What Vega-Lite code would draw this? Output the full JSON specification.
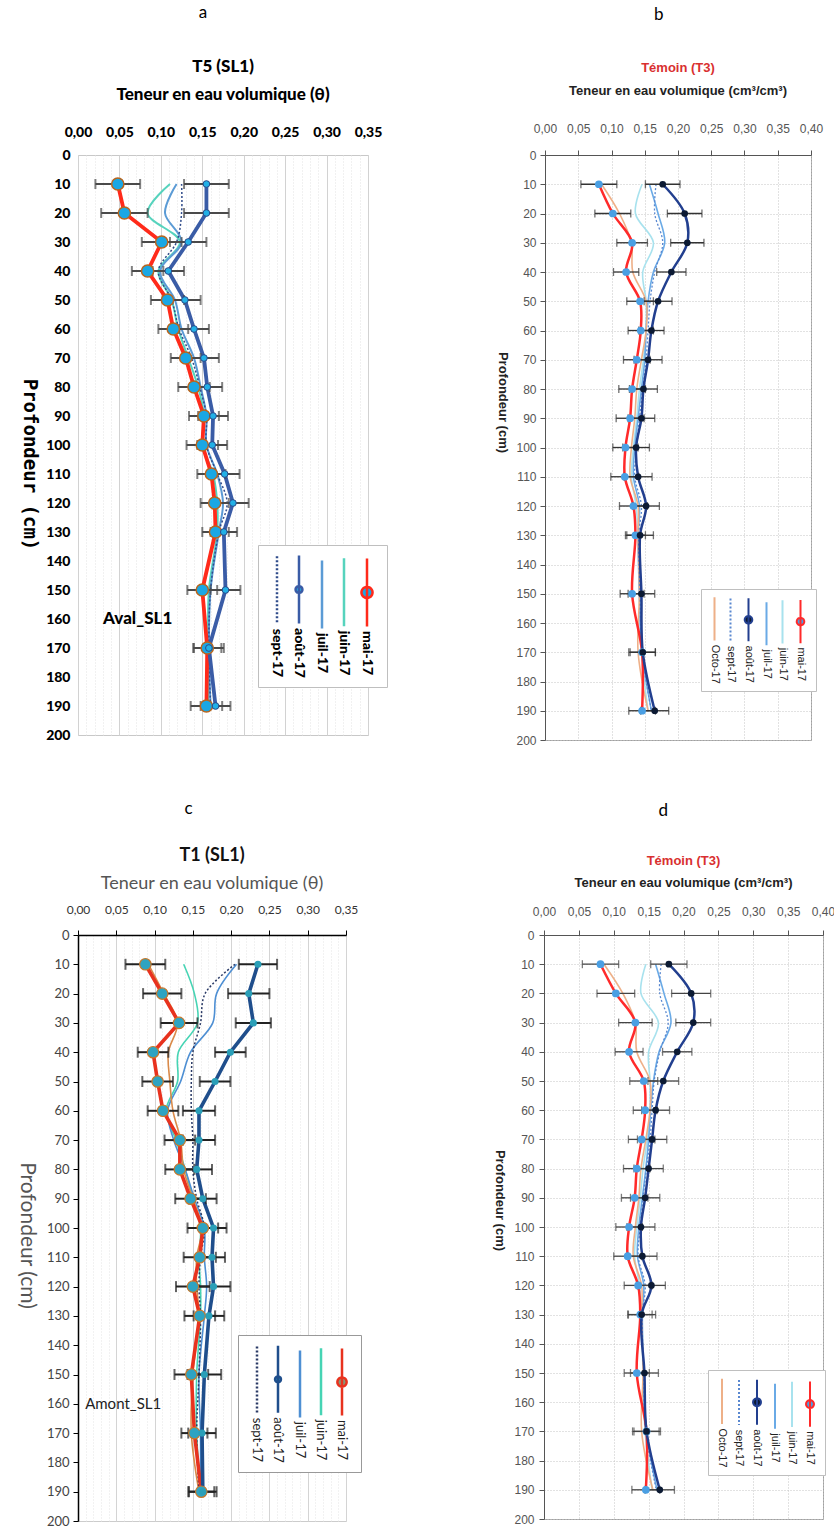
{
"$schema": "https://vega.github.io/schema/vega-lite/v6.json",
"background": "white",
"padding": {"left": 15, "top": 3, "right": 0, "bottom": 0},
"config": {"font": "Lato", "axis": {"labelFlush": false, "labelOverlap": false}, "title": {"anchor": "middle"}},
"datasets": {
"A": [
{"s":"mai-17","d":10,"v":0.048,"e":0.027},{"s":"mai-17","d":20,"v":0.056,"e":0.028},{"s":"mai-17","d":30,"v":0.101,"e":0.024},{"s":"mai-17","d":40,"v":0.084,"e":0.019},{"s":"mai-17","d":50,"v":0.108,"e":0.020},{"s":"mai-17","d":60,"v":0.115,"e":0.018},{"s":"mai-17","d":70,"v":0.130,"e":0.018},{"s":"mai-17","d":80,"v":0.140,"e":0.019},{"s":"mai-17","d":90,"v":0.152,"e":0.018},{"s":"mai-17","d":100,"v":0.150,"e":0.019},{"s":"mai-17","d":110,"v":0.161,"e":0.017},{"s":"mai-17","d":120,"v":0.165,"e":0.017},{"s":"mai-17","d":130,"v":0.166,"e":0.016},{"s":"mai-17","d":150,"v":0.150,"e":0.018},{"s":"mai-17","d":170,"v":0.156,"e":0.017},{"s":"mai-17","d":190,"v":0.155,"e":0.019},
{"s":"août-17","d":10,"v":0.155,"e":0.027},{"s":"août-17","d":20,"v":0.155,"e":0.027},{"s":"août-17","d":30,"v":0.133,"e":0.022},{"s":"août-17","d":40,"v":0.109,"e":0.019},{"s":"août-17","d":50,"v":0.129,"e":0.019},{"s":"août-17","d":60,"v":0.140,"e":0.018},{"s":"août-17","d":70,"v":0.152,"e":0.018},{"s":"août-17","d":80,"v":0.156,"e":0.018},{"s":"août-17","d":90,"v":0.163,"e":0.018},{"s":"août-17","d":100,"v":0.162,"e":0.018},{"s":"août-17","d":110,"v":0.177,"e":0.018},{"s":"août-17","d":120,"v":0.187,"e":0.019},{"s":"août-17","d":130,"v":0.176,"e":0.016},{"s":"août-17","d":150,"v":0.178,"e":0.018},{"s":"août-17","d":170,"v":0.158,"e":0.018},{"s":"août-17","d":190,"v":0.166,"e":0.018},
{"s":"juin-17","d":10,"v":0.111},{"s":"juin-17","d":20,"v":0.084},{"s":"juin-17","d":30,"v":0.123},{"s":"juin-17","d":40,"v":0.097},{"s":"juin-17","d":50,"v":0.113},{"s":"juin-17","d":60,"v":0.121},{"s":"juin-17","d":70,"v":0.133},{"s":"juin-17","d":80,"v":0.145},{"s":"juin-17","d":90,"v":0.152},{"s":"juin-17","d":100,"v":0.150},{"s":"juin-17","d":110,"v":0.163},{"s":"juin-17","d":120,"v":0.168},{"s":"juin-17","d":130,"v":0.168},{"s":"juin-17","d":150,"v":0.158},{"s":"juin-17","d":170,"v":0.157},{"s":"juin-17","d":190,"v":0.157},
{"s":"juil-17","d":10,"v":0.119},{"s":"juil-17","d":20,"v":0.105},{"s":"juil-17","d":30,"v":0.125},{"s":"juil-17","d":40,"v":0.099},{"s":"juil-17","d":50,"v":0.117},{"s":"juil-17","d":60,"v":0.125},{"s":"juil-17","d":70,"v":0.140},{"s":"juil-17","d":80,"v":0.148},{"s":"juil-17","d":90,"v":0.155},{"s":"juil-17","d":100,"v":0.155},{"s":"juil-17","d":110,"v":0.168},{"s":"juil-17","d":120,"v":0.175},{"s":"juil-17","d":130,"v":0.170},{"s":"juil-17","d":150,"v":0.160},{"s":"juil-17","d":170,"v":0.158},{"s":"juil-17","d":190,"v":0.160},
{"s":"sept-17","d":10,"v":0.125},{"s":"sept-17","d":20,"v":0.125},{"s":"sept-17","d":30,"v":0.119},{"s":"sept-17","d":40,"v":0.097},{"s":"sept-17","d":50,"v":0.113},{"s":"sept-17","d":60,"v":0.122},{"s":"sept-17","d":70,"v":0.137},{"s":"sept-17","d":80,"v":0.147},{"s":"sept-17","d":90,"v":0.155},{"s":"sept-17","d":100,"v":0.155},{"s":"sept-17","d":110,"v":0.168},{"s":"sept-17","d":120,"v":0.180},{"s":"sept-17","d":130,"v":0.170},{"s":"sept-17","d":150,"v":0.160},{"s":"sept-17","d":170,"v":0.158},{"s":"sept-17","d":190,"v":0.160}
],
"B": [
{"s":"mai-17","d":10,"v":0.081,"e":0.027},{"s":"mai-17","d":20,"v":0.102,"e":0.027},{"s":"mai-17","d":30,"v":0.131,"e":0.023},{"s":"mai-17","d":40,"v":0.122,"e":0.019},{"s":"mai-17","d":50,"v":0.143,"e":0.020},{"s":"mai-17","d":60,"v":0.144,"e":0.019},{"s":"mai-17","d":70,"v":0.138,"e":0.020},{"s":"mai-17","d":80,"v":0.131,"e":0.020},{"s":"mai-17","d":90,"v":0.128,"e":0.021},{"s":"mai-17","d":100,"v":0.121,"e":0.019},{"s":"mai-17","d":110,"v":0.120,"e":0.021},{"s":"mai-17","d":120,"v":0.133,"e":0.021},{"s":"mai-17","d":130,"v":0.136,"e":0.015},{"s":"mai-17","d":150,"v":0.131,"e":0.018},{"s":"mai-17","d":170,"v":0.146,"e":0.020},{"s":"mai-17","d":190,"v":0.146,"e":0.020},
{"s":"août-17","d":10,"v":0.177,"e":0.026},{"s":"août-17","d":20,"v":0.210,"e":0.026},{"s":"août-17","d":30,"v":0.214,"e":0.025},{"s":"août-17","d":40,"v":0.190,"e":0.022},{"s":"août-17","d":50,"v":0.170,"e":0.021},{"s":"août-17","d":60,"v":0.160,"e":0.019},{"s":"août-17","d":70,"v":0.155,"e":0.021},{"s":"août-17","d":80,"v":0.148,"e":0.021},{"s":"août-17","d":90,"v":0.145,"e":0.020},{"s":"août-17","d":100,"v":0.137,"e":0.020},{"s":"août-17","d":110,"v":0.140,"e":0.021},{"s":"août-17","d":120,"v":0.152,"e":0.020},{"s":"août-17","d":130,"v":0.143,"e":0.020},{"s":"août-17","d":150,"v":0.145,"e":0.020},{"s":"août-17","d":170,"v":0.147,"e":0.019},{"s":"août-17","d":190,"v":0.165,"e":0.021},
{"s":"juin-17","d":10,"v":0.146},{"s":"juin-17","d":20,"v":0.136},{"s":"juin-17","d":30,"v":0.163},{"s":"juin-17","d":40,"v":0.147},{"s":"juin-17","d":50,"v":0.152},{"s":"juin-17","d":60,"v":0.152},{"s":"juin-17","d":70,"v":0.148},{"s":"juin-17","d":80,"v":0.142},{"s":"juin-17","d":90,"v":0.138},{"s":"juin-17","d":100,"v":0.133},{"s":"juin-17","d":110,"v":0.130},{"s":"juin-17","d":120,"v":0.137},{"s":"juin-17","d":130,"v":0.140},{"s":"juin-17","d":150,"v":0.142},{"s":"juin-17","d":170,"v":0.145},{"s":"juin-17","d":190,"v":0.155},
{"s":"juil-17","d":10,"v":0.157},{"s":"juil-17","d":20,"v":0.170},{"s":"juil-17","d":30,"v":0.180},{"s":"juil-17","d":40,"v":0.163},{"s":"juil-17","d":50,"v":0.155},{"s":"juil-17","d":60,"v":0.152},{"s":"juil-17","d":70,"v":0.150},{"s":"juil-17","d":80,"v":0.145},{"s":"juil-17","d":90,"v":0.140},{"s":"juil-17","d":100,"v":0.135},{"s":"juil-17","d":110,"v":0.133},{"s":"juil-17","d":120,"v":0.142},{"s":"juil-17","d":130,"v":0.140},{"s":"juil-17","d":150,"v":0.142},{"s":"juil-17","d":170,"v":0.146},{"s":"juil-17","d":190,"v":0.160},
{"s":"sept-17","d":10,"v":0.167},{"s":"sept-17","d":20,"v":0.165},{"s":"sept-17","d":30,"v":0.177},{"s":"sept-17","d":40,"v":0.165},{"s":"sept-17","d":50,"v":0.158},{"s":"sept-17","d":60,"v":0.155},{"s":"sept-17","d":70,"v":0.152},{"s":"sept-17","d":80,"v":0.147},{"s":"sept-17","d":90,"v":0.142},{"s":"sept-17","d":100,"v":0.138},{"s":"sept-17","d":110,"v":0.135},{"s":"sept-17","d":120,"v":0.145},{"s":"sept-17","d":130,"v":0.141},{"s":"sept-17","d":150,"v":0.143},{"s":"sept-17","d":170,"v":0.146},{"s":"sept-17","d":190,"v":0.160},
{"s":"Octo-17","d":10,"v":0.085},{"s":"Octo-17","d":20,"v":0.112},{"s":"Octo-17","d":30,"v":0.130},{"s":"Octo-17","d":40,"v":0.132},{"s":"Octo-17","d":50,"v":0.152},{"s":"Octo-17","d":60,"v":0.152},{"s":"Octo-17","d":70,"v":0.145},{"s":"Octo-17","d":80,"v":0.138},{"s":"Octo-17","d":90,"v":0.135},{"s":"Octo-17","d":100,"v":0.130},{"s":"Octo-17","d":110,"v":0.128},{"s":"Octo-17","d":120,"v":0.140},{"s":"Octo-17","d":130,"v":0.140},{"s":"Octo-17","d":150,"v":0.142},{"s":"Octo-17","d":170,"v":0.140},{"s":"Octo-17","d":190,"v":0.155}
],
"C": [
{"s":"mai-17","d":10,"v":0.088,"e":0.026},{"s":"mai-17","d":20,"v":0.110,"e":0.025},{"s":"mai-17","d":30,"v":0.132,"e":0.024},{"s":"mai-17","d":40,"v":0.098,"e":0.020},{"s":"mai-17","d":50,"v":0.104,"e":0.020},{"s":"mai-17","d":60,"v":0.111,"e":0.020},{"s":"mai-17","d":70,"v":0.133,"e":0.020},{"s":"mai-17","d":80,"v":0.133,"e":0.019},{"s":"mai-17","d":90,"v":0.147,"e":0.020},{"s":"mai-17","d":100,"v":0.163,"e":0.020},{"s":"mai-17","d":110,"v":0.159,"e":0.021},{"s":"mai-17","d":120,"v":0.150,"e":0.022},{"s":"mai-17","d":130,"v":0.159,"e":0.020},{"s":"mai-17","d":150,"v":0.148,"e":0.022},{"s":"mai-17","d":170,"v":0.152,"e":0.017},{"s":"mai-17","d":190,"v":0.161,"e":0.017},
{"s":"août-17","d":10,"v":0.235,"e":0.025},{"s":"août-17","d":20,"v":0.223,"e":0.027},{"s":"août-17","d":30,"v":0.229,"e":0.023},{"s":"août-17","d":40,"v":0.199,"e":0.020},{"s":"août-17","d":50,"v":0.179,"e":0.020},{"s":"août-17","d":60,"v":0.158,"e":0.021},{"s":"août-17","d":70,"v":0.158,"e":0.021},{"s":"août-17","d":80,"v":0.155,"e":0.020},{"s":"août-17","d":90,"v":0.163,"e":0.018},{"s":"août-17","d":100,"v":0.177,"e":0.017},{"s":"août-17","d":110,"v":0.175,"e":0.017},{"s":"août-17","d":120,"v":0.177,"e":0.022},{"s":"août-17","d":130,"v":0.171,"e":0.020},{"s":"août-17","d":150,"v":0.165,"e":0.022},{"s":"août-17","d":170,"v":0.162,"e":0.018},{"s":"août-17","d":190,"v":0.163,"e":0.018},
{"s":"juin-17","d":10,"v":0.138},{"s":"juin-17","d":20,"v":0.152},{"s":"juin-17","d":30,"v":0.156},{"s":"juin-17","d":40,"v":0.131},{"s":"juin-17","d":50,"v":0.130},{"s":"juin-17","d":60,"v":0.115},{"s":"juin-17","d":70,"v":0.128},{"s":"juin-17","d":80,"v":0.140},{"s":"juin-17","d":90,"v":0.150},{"s":"juin-17","d":100,"v":0.160},{"s":"juin-17","d":110,"v":0.158},{"s":"juin-17","d":120,"v":0.160},{"s":"juin-17","d":130,"v":0.160},{"s":"juin-17","d":150,"v":0.155},{"s":"juin-17","d":170,"v":0.155},{"s":"juin-17","d":190,"v":0.160},
{"s":"juil-17","d":10,"v":0.207},{"s":"juil-17","d":20,"v":0.181},{"s":"juil-17","d":30,"v":0.176},{"s":"juil-17","d":40,"v":0.147},{"s":"juil-17","d":50,"v":0.134},{"s":"juil-17","d":60,"v":0.117},{"s":"juil-17","d":70,"v":0.125},{"s":"juil-17","d":80,"v":0.140},{"s":"juil-17","d":90,"v":0.152},{"s":"juil-17","d":100,"v":0.165},{"s":"juil-17","d":110,"v":0.165},{"s":"juil-17","d":120,"v":0.168},{"s":"juil-17","d":130,"v":0.165},{"s":"juil-17","d":150,"v":0.158},{"s":"juil-17","d":170,"v":0.160},{"s":"juil-17","d":190,"v":0.160},
{"s":"sept-17","d":10,"v":0.205},{"s":"sept-17","d":20,"v":0.166},{"s":"sept-17","d":30,"v":0.160},{"s":"sept-17","d":40,"v":0.150},{"s":"sept-17","d":50,"v":0.148},{"s":"sept-17","d":60,"v":0.148},{"s":"sept-17","d":70,"v":0.150},{"s":"sept-17","d":80,"v":0.150},{"s":"sept-17","d":90,"v":0.155},{"s":"sept-17","d":100,"v":0.165},{"s":"sept-17","d":110,"v":0.160},{"s":"sept-17","d":120,"v":0.158},{"s":"sept-17","d":130,"v":0.160},{"s":"sept-17","d":150,"v":0.158},{"s":"sept-17","d":170,"v":0.155},{"s":"sept-17","d":190,"v":0.158},
{"s":"Octo-17","d":10,"v":0.092},{"s":"Octo-17","d":20,"v":0.112},{"s":"Octo-17","d":30,"v":0.130},{"s":"Octo-17","d":40,"v":0.118},{"s":"Octo-17","d":50,"v":0.120},{"s":"Octo-17","d":60,"v":0.124},{"s":"Octo-17","d":70,"v":0.134},{"s":"Octo-17","d":80,"v":0.138},{"s":"Octo-17","d":90,"v":0.150},{"s":"Octo-17","d":100,"v":0.162},{"s":"Octo-17","d":110,"v":0.155},{"s":"Octo-17","d":120,"v":0.155},{"s":"Octo-17","d":130,"v":0.158},{"s":"Octo-17","d":150,"v":0.150},{"s":"Octo-17","d":170,"v":0.148},{"s":"Octo-17","d":190,"v":0.158}
],
"D": [
{"s":"mai-17","d":10,"v":0.081,"e":0.026},{"s":"mai-17","d":20,"v":0.103,"e":0.027},{"s":"mai-17","d":30,"v":0.131,"e":0.024},{"s":"mai-17","d":40,"v":0.122,"e":0.020},{"s":"mai-17","d":50,"v":0.143,"e":0.020},{"s":"mai-17","d":60,"v":0.145,"e":0.017},{"s":"mai-17","d":70,"v":0.140,"e":0.019},{"s":"mai-17","d":80,"v":0.133,"e":0.019},{"s":"mai-17","d":90,"v":0.130,"e":0.019},{"s":"mai-17","d":100,"v":0.122,"e":0.019},{"s":"mai-17","d":110,"v":0.120,"e":0.020},{"s":"mai-17","d":120,"v":0.135,"e":0.020},{"s":"mai-17","d":130,"v":0.138,"e":0.017},{"s":"mai-17","d":150,"v":0.133,"e":0.018},{"s":"mai-17","d":170,"v":0.147,"e":0.018},{"s":"mai-17","d":190,"v":0.146,"e":0.020},
{"s":"août-17","d":10,"v":0.179,"e":0.026},{"s":"août-17","d":20,"v":0.211,"e":0.028},{"s":"août-17","d":30,"v":0.214,"e":0.025},{"s":"août-17","d":40,"v":0.191,"e":0.021},{"s":"août-17","d":50,"v":0.171,"e":0.022},{"s":"août-17","d":60,"v":0.160,"e":0.020},{"s":"août-17","d":70,"v":0.155,"e":0.021},{"s":"août-17","d":80,"v":0.150,"e":0.021},{"s":"août-17","d":90,"v":0.145,"e":0.021},{"s":"août-17","d":100,"v":0.139,"e":0.020},{"s":"août-17","d":110,"v":0.141,"e":0.021},{"s":"août-17","d":120,"v":0.154,"e":0.020},{"s":"août-17","d":130,"v":0.140,"e":0.020},{"s":"août-17","d":150,"v":0.144,"e":0.020},{"s":"août-17","d":170,"v":0.147,"e":0.020},{"s":"août-17","d":190,"v":0.166,"e":0.021},
{"s":"juin-17","d":10,"v":0.146},{"s":"juin-17","d":20,"v":0.139},{"s":"juin-17","d":30,"v":0.164},{"s":"juin-17","d":40,"v":0.150},{"s":"juin-17","d":50,"v":0.152},{"s":"juin-17","d":60,"v":0.152},{"s":"juin-17","d":70,"v":0.148},{"s":"juin-17","d":80,"v":0.142},{"s":"juin-17","d":90,"v":0.138},{"s":"juin-17","d":100,"v":0.133},{"s":"juin-17","d":110,"v":0.130},{"s":"juin-17","d":120,"v":0.137},{"s":"juin-17","d":130,"v":0.140},{"s":"juin-17","d":150,"v":0.142},{"s":"juin-17","d":170,"v":0.145},{"s":"juin-17","d":190,"v":0.155},
{"s":"juil-17","d":10,"v":0.160},{"s":"juil-17","d":20,"v":0.172},{"s":"juil-17","d":30,"v":0.182},{"s":"juil-17","d":40,"v":0.165},{"s":"juil-17","d":50,"v":0.157},{"s":"juil-17","d":60,"v":0.153},{"s":"juil-17","d":70,"v":0.150},{"s":"juil-17","d":80,"v":0.146},{"s":"juil-17","d":90,"v":0.141},{"s":"juil-17","d":100,"v":0.136},{"s":"juil-17","d":110,"v":0.134},{"s":"juil-17","d":120,"v":0.143},{"s":"juil-17","d":130,"v":0.141},{"s":"juil-17","d":150,"v":0.143},{"s":"juil-17","d":170,"v":0.147},{"s":"juil-17","d":190,"v":0.162},
{"s":"sept-17","d":10,"v":0.168},{"s":"sept-17","d":20,"v":0.166},{"s":"sept-17","d":30,"v":0.178},{"s":"sept-17","d":40,"v":0.166},{"s":"sept-17","d":50,"v":0.158},{"s":"sept-17","d":60,"v":0.155},{"s":"sept-17","d":70,"v":0.152},{"s":"sept-17","d":80,"v":0.147},{"s":"sept-17","d":90,"v":0.142},{"s":"sept-17","d":100,"v":0.138},{"s":"sept-17","d":110,"v":0.135},{"s":"sept-17","d":120,"v":0.145},{"s":"sept-17","d":130,"v":0.141},{"s":"sept-17","d":150,"v":0.143},{"s":"sept-17","d":170,"v":0.146},{"s":"sept-17","d":190,"v":0.161},
{"s":"Octo-17","d":10,"v":0.086},{"s":"Octo-17","d":20,"v":0.113},{"s":"Octo-17","d":30,"v":0.131},{"s":"Octo-17","d":40,"v":0.133},{"s":"Octo-17","d":50,"v":0.152},{"s":"Octo-17","d":60,"v":0.152},{"s":"Octo-17","d":70,"v":0.146},{"s":"Octo-17","d":80,"v":0.139},{"s":"Octo-17","d":90,"v":0.136},{"s":"Octo-17","d":100,"v":0.131},{"s":"Octo-17","d":110,"v":0.128},{"s":"Octo-17","d":120,"v":0.140},{"s":"Octo-17","d":130,"v":0.140},{"s":"Octo-17","d":150,"v":0.142},{"s":"Octo-17","d":170,"v":0.140},{"s":"Octo-17","d":190,"v":0.156}
]
},
"spacing": 52,
"resolve": {"scale": {"color": "independent"}, "legend": {"color": "independent"}},
"vconcat": [
{"spacing": 106, "resolve": {"scale": {"color": "independent"}, "legend": {"color": "independent"}}, "hconcat": [
{"title": {"text": "a", "font": "Lato", "fontSize": 17, "fontWeight": "normal", "color": "#000", "offset": 36, "frame": "bounds"},
 "vconcat": [{
  "width": 290, "height": 580,
  "data": {"name": "A"},
  "view": {"stroke": "#c8c8c8"},
  "title": {"text": "T5 (SL1)", "subtitle": "Teneur en eau volumique (θ)", "font": "Lato", "fontSize": 17, "fontWeight": 900, "color": "#000", "subtitleFont": "Lato", "subtitleFontSize": 17, "subtitleFontWeight": 900, "subtitleColor": "#000", "subtitlePadding": 11, "offset": 21},
  "encoding": {
   "x": {"field": "v", "type": "quantitative", "title": null, "scale": {"domain": [0, 0.35], "nice": false, "zero": false},
    "axis": {"orient": "top", "values": [0,0.01,0.02,0.03,0.04,0.05,0.06,0.07,0.08,0.09,0.1,0.11,0.12,0.13,0.14,0.15,0.16,0.17,0.18,0.19,0.2,0.21,0.22,0.23,0.24,0.25,0.26,0.27,0.28,0.29,0.3,0.31,0.32,0.33,0.34,0.35],
     "labelExpr": "round(datum.value*100)%5===0 ? replace(format(datum.value,'.2f'),'.',',') : ''",
     "labelFont": "Lato", "labelFontSize": 14, "labelFontWeight": 900, "labelColor": "#000", "ticks": false, "tickSize": 0, "domain": false, "labelPadding": 16,
     "grid": true, "gridWidth": 1,
     "gridColor": {"condition": {"test": "round(datum.value*100)%5===0", "value": "#d2d2d2"}, "value": "#e2e2e2"},
     "gridDash": {"condition": {"test": "round(datum.value*100)%5===0", "value": []}, "value": [1, 2]}}},
   "y": {"field": "d", "type": "quantitative", "title": "Profondeur (cm)", "scale": {"domain": [0, 200], "reverse": true, "nice": false},
    "axis": {"values": [0,10,20,30,40,50,60,70,80,90,100,110,120,130,140,150,160,170,180,190,200], "grid": false, "ticks": false, "tickSize": 0, "domain": false,
     "labelFont": "Lato", "labelFontSize": 14, "labelFontWeight": 900, "labelColor": "#000", "labelPadding": 8,
     "titleAngle": 90, "titleBaseline": "middle", "titleFont": "DejaVu Sans Mono", "titleFontSize": 19, "titleFontWeight": "bold", "titleColor": "#000", "titleX": -49, "titleY": 309}}
  },
  "layer": [
   {"transform": [{"filter": {"field": "s", "oneOf": ["juin-17", "juil-17"]}}],
    "mark": {"type": "line", "interpolate": "catmull-rom", "strokeWidth": 2},
    "encoding": {"order": {"field": "d", "type": "quantitative"},
     "color": {"field": "s", "type": "nominal", "scale": {"domain": ["sept-17","août-17","juil-17","juin-17","mai-17"], "range": ["#2f4b8a","#3a5ca6","#5b9bd5","#56d3bd","#ff2a1a"]},
      "legend": {"orient": "none", "legendX": 180, "legendY": 390, "direction": "horizontal", "columns": 5, "title": null,
       "values": ["sept-17","août-17","juil-17","juin-17","mai-17"],
       "symbolType": "M0,-1L0,7", "symbolSize": 289, "symbolStrokeWidth": 2.5, "labelOffset": -10,
       "labelFont": "Lato", "labelFontSize": 14, "labelFontWeight": 900, "labelColor": "#000", "labelLimit": 200,
       "columnPadding": 4, "padding": 9, "strokeColor": "#bfbfbf", "fillColor": "#ffffff",
       "encode": {"labels": {"update": {"angle": {"value": 90}, "dx": {"value": 64}}},
                  "symbols": {"update": {
                    "strokeDash": [{"test": "datum.value==='sept-17'", "value": [2, 2]}, {"value": [1, 0]}],
                    "shape": [{"test": "datum.value==='mai-17'", "value": "M0,-1L0,7M-0.65,3A0.65,0.65 0 1,0 0.65,3A0.65,0.65 0 1,0 -0.65,3"}, {"test": "datum.value==='août-17'", "value": "M0,-1L0,7M-0.4,3A0.4,0.4 0 1,0 0.4,3A0.4,0.4 0 1,0 -0.4,3"}, {"value": "M0,-1L0,7"}],
                    "fill": [{"test": "datum.value==='mai-17'", "value": "#1aa7e4"}, {"test": "datum.value==='août-17'", "value": "#22b0e6"}, {"value": "transparent"}]}}}}}}},
   {"transform": [{"filter": {"field": "s", "equal": "sept-17"}}],
    "mark": {"type": "line", "interpolate": "catmull-rom", "strokeWidth": 1.5, "strokeDash": [2, 2]},
    "encoding": {"order": {"field": "d", "type": "quantitative"},
     "color": {"field": "s", "type": "nominal", "scale": {"domain": ["sept-17","août-17","juil-17","juin-17","mai-17"], "range": ["#2f4b8a","#3a5ca6","#5b9bd5","#56d3bd","#ff2a1a"]}}}},
   {"transform": [{"filter": {"field": "s", "oneOf": ["mai-17", "août-17"]}}],
    "mark": {"type": "line", "strokeWidth": 3.8},
    "encoding": {"order": {"field": "d", "type": "quantitative"},
     "color": {"field": "s", "type": "nominal", "scale": {"domain": ["sept-17","août-17","juil-17","juin-17","mai-17"], "range": ["#2f4b8a","#3a5ca6","#5b9bd5","#56d3bd","#ff2a1a"]}}}},
   {"transform": [{"filter": "isValid(datum.e)"}],
    "mark": {"type": "errorbar", "ticks": true, "size": 10, "thickness": 2, "color": "#4a4a4a"},
    "encoding": {"xError": {"field": "e"}}},
   {"transform": [{"filter": {"field": "s", "equal": "mai-17"}}],
    "mark": {"type": "point", "shape": "circle", "filled": true, "fill": "#1aa7e4", "stroke": "#b8651e", "strokeWidth": 1.5, "size": 150, "opacity": 1}},
   {"transform": [{"filter": {"field": "s", "equal": "août-17"}}],
    "mark": {"type": "point", "shape": "circle", "filled": true, "fill": "#22b0e6", "stroke": "#2a4a8a", "strokeWidth": 1, "size": 45, "opacity": 1}},
   {"transform": [{"filter": "datum.s === 'mai-17' && datum.d === 10"}],
    "mark": {"type": "text", "text": "Aval_SL1", "font": "Lato", "fontSize": 17, "fontWeight": 900, "color": "#000", "align": "center", "baseline": "middle"},
    "encoding": {"x": {"datum": 0.072, "type": "quantitative"}, "y": {"datum": 160, "type": "quantitative"}}}
  ]
 }]
},
{"title": {"text": "b", "font": "Lato", "fontSize": 17, "fontWeight": "normal", "color": "#000", "offset": 38, "frame": "bounds"},
 "vconcat": [{
  "width": 266, "height": 585,
  "data": {"name": "B"},
  "view": {"stroke": "#a0a0a0"},
  "title": {"text": "Témoin (T3)", "subtitle": "Teneur en eau volumique (cm³/cm³)", "font": "Liberation Sans", "fontSize": 13, "fontWeight": "bold", "color": "#d93030", "subtitleFont": "Liberation Sans", "subtitleFontSize": 13, "subtitleFontWeight": "bold", "subtitleColor": "#222", "subtitlePadding": 10, "offset": 24},
  "encoding": {
   "x": {"field": "v", "type": "quantitative", "title": null, "scale": {"domain": [0, 0.4], "nice": false, "zero": false},
    "axis": {"orient": "top", "values": [0,0.05,0.1,0.15,0.2,0.25,0.3,0.35,0.4],
     "labelExpr": "replace(format(datum.value,'.2f'),'.',',')",
     "labelFont": "Liberation Sans", "labelFontSize": 12, "labelColor": "#555", "ticks": true, "tickSize": 5, "tickColor": "#555", "domain": true, "domainColor": "#555", "labelPadding": 15,
     "grid": true, "gridColor": "#c4c4c4", "gridDash": [1, 2]}},
   "y": {"field": "d", "type": "quantitative", "title": "Profondeur (cm)", "scale": {"domain": [0, 200], "reverse": true, "nice": false},
    "axis": {"values": [0,10,20,30,40,50,60,70,80,90,100,110,120,130,140,150,160,170,180,190,200], "grid": true, "gridColor": "#c4c4c4", "gridDash": [1, 2], "ticks": true, "tickSize": 5, "tickColor": "#555", "domain": true, "domainColor": "#555",
     "labelFont": "Liberation Sans", "labelFontSize": 12, "labelColor": "#555", "labelPadding": 4,
     "titleAngle": 90, "titleBaseline": "middle", "titleFont": "Liberation Sans", "titleFontSize": 13, "titleFontWeight": "bold", "titleColor": "#222", "titleX": -43, "titleY": 247}}
  },
  "layer": [
   {"transform": [{"filter": {"field": "s", "oneOf": ["juin-17", "juil-17", "Octo-17"]}}],
    "mark": {"type": "line", "interpolate": "catmull-rom", "strokeWidth": 1.6},
    "encoding": {"order": {"field": "d", "type": "quantitative"},
     "color": {"field": "s", "type": "nominal", "scale": {"domain": ["Octo-17","sept-17","août-17","juil-17","juin-17","mai-17"], "range": ["#eeb088","#5a88d0","#223f8f","#6aaae6","#a8e2ee","#ff2a2a"]},
      "legend": {"orient": "none", "legendX": 156, "legendY": 434, "direction": "horizontal", "columns": 6, "title": null,
       "values": ["Octo-17","sept-17","août-17","juil-17","juin-17","mai-17"],
       "symbolType": "M0,-1L0,7", "symbolSize": 116, "symbolStrokeWidth": 2, "labelOffset": -6.5,
       "labelFont": "Liberation Sans", "labelFontSize": 11, "labelColor": "#222", "labelLimit": 200,
       "columnPadding": 3, "padding": 7, "strokeColor": "#bfbfbf", "fillColor": "#ffffff",
       "encode": {"labels": {"update": {"angle": {"value": 90}, "dx": {"value": 42}}},
                  "symbols": {"update": {
                    "strokeDash": [{"test": "datum.value==='sept-17'", "value": [2, 2]}, {"value": [1, 0]}],
                    "shape": [{"test": "datum.value==='mai-17' || datum.value==='août-17'", "value": "M0,-1L0,7M-0.7,3A0.7,0.7 0 1,0 0.7,3A0.7,0.7 0 1,0 -0.7,3"}, {"value": "M0,-1L0,7"}],
                    "fill": [{"test": "datum.value==='mai-17'", "value": "#4a9fe3"}, {"test": "datum.value==='août-17'", "value": "#0c1a33"}, {"value": "transparent"}]}}}}}}},
   {"transform": [{"filter": {"field": "s", "equal": "sept-17"}}],
    "mark": {"type": "line", "interpolate": "catmull-rom", "strokeWidth": 1.3, "strokeDash": [2, 2]},
    "encoding": {"order": {"field": "d", "type": "quantitative"},
     "color": {"field": "s", "type": "nominal", "scale": {"domain": ["Octo-17","sept-17","août-17","juil-17","juin-17","mai-17"], "range": ["#eeb088","#5a88d0","#223f8f","#6aaae6","#a8e2ee","#ff2a2a"]}}}},
   {"transform": [{"filter": {"field": "s", "oneOf": ["mai-17", "août-17"]}}],
    "mark": {"type": "line", "interpolate": "catmull-rom", "strokeWidth": 2.5},
    "encoding": {"order": {"field": "d", "type": "quantitative"},
     "color": {"field": "s", "type": "nominal", "scale": {"domain": ["Octo-17","sept-17","août-17","juil-17","juin-17","mai-17"], "range": ["#eeb088","#5a88d0","#223f8f","#6aaae6","#a8e2ee","#ff2a2a"]}}}},
   {"transform": [{"filter": "isValid(datum.e)"}],
    "mark": {"type": "errorbar", "ticks": true, "size": 8, "thickness": 1.3, "color": "#333"},
    "encoding": {"xError": {"field": "e"}}},
   {"transform": [{"filter": {"field": "s", "equal": "mai-17"}}],
    "mark": {"type": "point", "shape": "circle", "filled": true, "fill": "#4a9fe3", "size": 60, "opacity": 1}},
   {"transform": [{"filter": {"field": "s", "equal": "août-17"}}],
    "mark": {"type": "point", "shape": "circle", "filled": true, "fill": "#0c1a33", "size": 45, "opacity": 1}}
  ]
 }]
}
]},
{"spacing": 129, "resolve": {"scale": {"color": "independent"}, "legend": {"color": "independent"}}, "hconcat": [
{"title": {"text": "c", "font": "Lato", "fontSize": 17, "fontWeight": "normal", "color": "#000", "offset": 29, "frame": "bounds"},
 "vconcat": [{
  "width": 268, "height": 586,
  "data": {"name": "C"},
  "view": {"stroke": "#cccccc"},
  "title": {"text": "T1 (SL1)", "subtitle": "Teneur en eau volumique (θ)", "font": "Lato", "fontSize": 18, "fontWeight": "bold", "color": "#111", "subtitleFont": "Lato", "subtitleFontSize": 18, "subtitleFontWeight": "normal", "subtitleColor": "#555", "subtitlePadding": 10, "offset": 10},
  "encoding": {
   "x": {"field": "v", "type": "quantitative", "title": null, "scale": {"domain": [0, 0.35], "nice": false, "zero": false},
    "axis": {"orient": "top", "values": [0,0.01,0.02,0.03,0.04,0.05,0.06,0.07,0.08,0.09,0.1,0.11,0.12,0.13,0.14,0.15,0.16,0.17,0.18,0.19,0.2,0.21,0.22,0.23,0.24,0.25,0.26,0.27,0.28,0.29,0.3,0.31,0.32,0.33,0.34,0.35],
     "labelExpr": "round(datum.value*100)%5===0 ? replace(format(datum.value,'.2f'),'.',',') : ''",
     "labelFont": "Lato", "labelFontSize": 12, "labelColor": "#333", "ticks": true, "tickSize": 5, "tickColor": "#000",
     "tickOpacity": {"condition": {"test": "round(datum.value*100)%5===0", "value": 1}, "value": 0},
     "domain": true, "domainColor": "#000", "domainWidth": 1.5, "labelPadding": 14,
     "grid": true, "gridWidth": 1,
     "gridColor": {"condition": {"test": "round(datum.value*100)%5===0", "value": "#d4d4d4"}, "value": "#e4e4e4"},
     "gridDash": {"condition": {"test": "round(datum.value*100)%5===0", "value": []}, "value": [1, 2]}}},
   "y": {"field": "d", "type": "quantitative", "title": "Profondeur (cm)", "scale": {"domain": [0, 200], "reverse": true, "nice": false},
    "axis": {"values": [0,10,20,30,40,50,60,70,80,90,100,110,120,130,140,150,160,170,180,190,200], "grid": false, "ticks": true, "tickSize": 5, "tickColor": "#000", "domain": true, "domainColor": "#000", "domainWidth": 1.5,
     "labelFont": "Lato", "labelFontSize": 13, "labelColor": "#444", "labelPadding": 4,
     "titleAngle": 90, "titleBaseline": "middle", "titleFont": "Lato", "titleFontSize": 21, "titleFontWeight": "normal", "titleColor": "#555", "titleX": -52, "titleY": 300}}
  },
  "layer": [
   {"transform": [{"filter": {"field": "s", "oneOf": ["juin-17", "juil-17", "Octo-17"]}}],
    "mark": {"type": "line", "interpolate": "catmull-rom", "strokeWidth": 1.6},
    "encoding": {"order": {"field": "d", "type": "quantitative"},
     "color": {"field": "s", "type": "nominal", "scale": {"domain": ["Octo-17","sept-17","août-17","juil-17","juin-17","mai-17"], "range": ["#d98a4a","#2a3a66","#1f4e8c","#4e8fd3","#46d4b4","#e8321e"]},
      "legend": {"orient": "none", "legendX": 160, "legendY": 400, "direction": "horizontal", "columns": 5, "title": null,
       "values": ["sept-17","août-17","juil-17","juin-17","mai-17"],
       "symbolType": "M0,-1L0,7", "symbolSize": 281, "symbolStrokeWidth": 2.5, "labelOffset": -10,
       "labelFont": "Lato", "labelFontSize": 13, "labelColor": "#222", "labelLimit": 200,
       "columnPadding": 4, "padding": 9, "strokeColor": "#999999", "fillColor": "#ffffff",
       "encode": {"labels": {"update": {"angle": {"value": 90}, "dx": {"value": 63}}},
                  "symbols": {"update": {
                    "strokeDash": [{"test": "datum.value==='sept-17'", "value": [2, 2]}, {"value": [1, 0]}],
                    "shape": [{"test": "datum.value==='mai-17'", "value": "M0,-1L0,7M-0.55,3A0.55,0.55 0 1,0 0.55,3A0.55,0.55 0 1,0 -0.55,3"}, {"test": "datum.value==='août-17'", "value": "M0,-1L0,7M-0.35,3A0.35,0.35 0 1,0 0.35,3A0.35,0.35 0 1,0 -0.35,3"}, {"value": "M0,-1L0,7"}],
                    "fill": [{"test": "datum.value==='mai-17'", "value": "#86997a"}, {"test": "datum.value==='août-17'", "value": "#2a9fb8"}, {"value": "transparent"}]}}}}}}},
   {"transform": [{"filter": {"field": "s", "equal": "sept-17"}}],
    "mark": {"type": "line", "interpolate": "catmull-rom", "strokeWidth": 1.5, "strokeDash": [2, 2]},
    "encoding": {"order": {"field": "d", "type": "quantitative"},
     "color": {"field": "s", "type": "nominal", "scale": {"domain": ["Octo-17","sept-17","août-17","juil-17","juin-17","mai-17"], "range": ["#d98a4a","#2a3a66","#1f4e8c","#4e8fd3","#46d4b4","#e8321e"]}}}},
   {"transform": [{"filter": {"field": "s", "oneOf": ["mai-17", "août-17"]}}],
    "mark": {"type": "line", "strokeWidth": 3.6},
    "encoding": {"order": {"field": "d", "type": "quantitative"},
     "color": {"field": "s", "type": "nominal", "scale": {"domain": ["Octo-17","sept-17","août-17","juil-17","juin-17","mai-17"], "range": ["#d98a4a","#2a3a66","#1f4e8c","#4e8fd3","#46d4b4","#e8321e"]}}}},
   {"transform": [{"filter": "isValid(datum.e)"}],
    "mark": {"type": "errorbar", "ticks": true, "size": 11, "thickness": 2, "color": "#222"},
    "encoding": {"xError": {"field": "e"}}},
   {"transform": [{"filter": {"field": "s", "equal": "mai-17"}}],
    "mark": {"type": "point", "shape": "circle", "filled": true, "fill": "#2ea3c2", "stroke": "#c8782a", "strokeWidth": 1.2, "size": 130, "opacity": 1}},
   {"transform": [{"filter": {"field": "s", "equal": "août-17"}}],
    "mark": {"type": "point", "shape": "circle", "filled": true, "fill": "#2a9fb8", "size": 50, "opacity": 1}},
   {"transform": [{"filter": "datum.s === 'mai-17' && datum.d === 10"}],
    "mark": {"type": "text", "text": "Amont_SL1", "font": "Lato", "fontSize": 15, "color": "#222", "align": "center", "baseline": "middle"},
    "encoding": {"x": {"datum": 0.059, "type": "quantitative"}, "y": {"datum": 160, "type": "quantitative"}}}
  ]
 }]
},
{"title": {"text": "d", "font": "Lato", "fontSize": 17, "fontWeight": "normal", "color": "#000", "offset": 35, "frame": "bounds"},
 "vconcat": [{
  "width": 279, "height": 584,
  "data": {"name": "D"},
  "view": {"stroke": "#a0a0a0"},
  "title": {"text": "Témoin (T3)", "subtitle": "Teneur en eau volumique (cm³/cm³)", "font": "Liberation Sans", "fontSize": 13, "fontWeight": "bold", "color": "#d93030", "subtitleFont": "Liberation Sans", "subtitleFontSize": 13, "subtitleFontWeight": "bold", "subtitleColor": "#222", "subtitlePadding": 9, "offset": 15},
  "encoding": {
   "x": {"field": "v", "type": "quantitative", "title": null, "scale": {"domain": [0, 0.4], "nice": false, "zero": false},
    "axis": {"orient": "top", "values": [0,0.05,0.1,0.15,0.2,0.25,0.3,0.35,0.4],
     "labelExpr": "replace(format(datum.value,'.2f'),'.',',')",
     "labelFont": "Liberation Sans", "labelFontSize": 12, "labelColor": "#555", "ticks": true, "tickSize": 5, "tickColor": "#555", "domain": true, "domainColor": "#555", "labelPadding": 12,
     "grid": true, "gridColor": "#c4c4c4", "gridDash": [1, 2]}},
   "y": {"field": "d", "type": "quantitative", "title": "Profondeur (cm)", "scale": {"domain": [0, 200], "reverse": true, "nice": false},
    "axis": {"values": [0,10,20,30,40,50,60,70,80,90,100,110,120,130,140,150,160,170,180,190,200], "grid": true, "gridColor": "#c4c4c4", "gridDash": [1, 2], "ticks": true, "tickSize": 5, "tickColor": "#555", "domain": true, "domainColor": "#555",
     "labelFont": "Liberation Sans", "labelFontSize": 12, "labelColor": "#555", "labelPadding": 5,
     "titleAngle": 90, "titleBaseline": "middle", "titleFont": "Liberation Sans", "titleFontSize": 13, "titleFontWeight": "bold", "titleColor": "#222", "titleX": -45, "titleY": 265}}
  },
  "layer": [
   {"transform": [{"filter": {"field": "s", "oneOf": ["juin-17", "juil-17", "Octo-17"]}}],
    "mark": {"type": "line", "interpolate": "catmull-rom", "strokeWidth": 1.6},
    "encoding": {"order": {"field": "d", "type": "quantitative"},
     "color": {"field": "s", "type": "nominal", "scale": {"domain": ["Octo-17","sept-17","août-17","juil-17","juin-17","mai-17"], "range": ["#eeb088","#5a88d0","#223f8f","#6aaae6","#a8e2ee","#ff2a2a"]},
      "legend": {"orient": "none", "legendX": 164, "legendY": 435, "direction": "horizontal", "columns": 6, "title": null,
       "values": ["Octo-17","sept-17","août-17","juil-17","juin-17","mai-17"],
       "symbolType": "M0,-1L0,7", "symbolSize": 127, "symbolStrokeWidth": 2, "labelOffset": -7,
       "labelFont": "Liberation Sans", "labelFontSize": 11, "labelColor": "#222", "labelLimit": 200,
       "columnPadding": 3, "padding": 7, "strokeColor": "#bfbfbf", "fillColor": "#ffffff",
       "encode": {"labels": {"update": {"angle": {"value": 90}, "dx": {"value": 44}}},
                  "symbols": {"update": {
                    "strokeDash": [{"test": "datum.value==='sept-17'", "value": [2, 2]}, {"value": [1, 0]}],
                    "shape": [{"test": "datum.value==='mai-17' || datum.value==='août-17'", "value": "M0,-1L0,7M-0.7,3A0.7,0.7 0 1,0 0.7,3A0.7,0.7 0 1,0 -0.7,3"}, {"value": "M0,-1L0,7"}],
                    "fill": [{"test": "datum.value==='mai-17'", "value": "#4a9fe3"}, {"test": "datum.value==='août-17'", "value": "#0c1a33"}, {"value": "transparent"}]}}}}}}},
   {"transform": [{"filter": {"field": "s", "equal": "sept-17"}}],
    "mark": {"type": "line", "interpolate": "catmull-rom", "strokeWidth": 1.3, "strokeDash": [2, 2]},
    "encoding": {"order": {"field": "d", "type": "quantitative"},
     "color": {"field": "s", "type": "nominal", "scale": {"domain": ["Octo-17","sept-17","août-17","juil-17","juin-17","mai-17"], "range": ["#eeb088","#5a88d0","#223f8f","#6aaae6","#a8e2ee","#ff2a2a"]}}}},
   {"transform": [{"filter": {"field": "s", "oneOf": ["mai-17", "août-17"]}}],
    "mark": {"type": "line", "interpolate": "catmull-rom", "strokeWidth": 2.5},
    "encoding": {"order": {"field": "d", "type": "quantitative"},
     "color": {"field": "s", "type": "nominal", "scale": {"domain": ["Octo-17","sept-17","août-17","juil-17","juin-17","mai-17"], "range": ["#eeb088","#5a88d0","#223f8f","#6aaae6","#a8e2ee","#ff2a2a"]}}}},
   {"transform": [{"filter": "isValid(datum.e)"}],
    "mark": {"type": "errorbar", "ticks": true, "size": 8, "thickness": 1.3, "color": "#444"},
    "encoding": {"xError": {"field": "e"}}},
   {"transform": [{"filter": {"field": "s", "equal": "mai-17"}}],
    "mark": {"type": "point", "shape": "circle", "filled": true, "fill": "#4a9fe3", "size": 60, "opacity": 1}},
   {"transform": [{"filter": {"field": "s", "equal": "août-17"}}],
    "mark": {"type": "point", "shape": "circle", "filled": true, "fill": "#0c1a33", "size": 45, "opacity": 1}}
  ]
 }]
}
]}
]
}
